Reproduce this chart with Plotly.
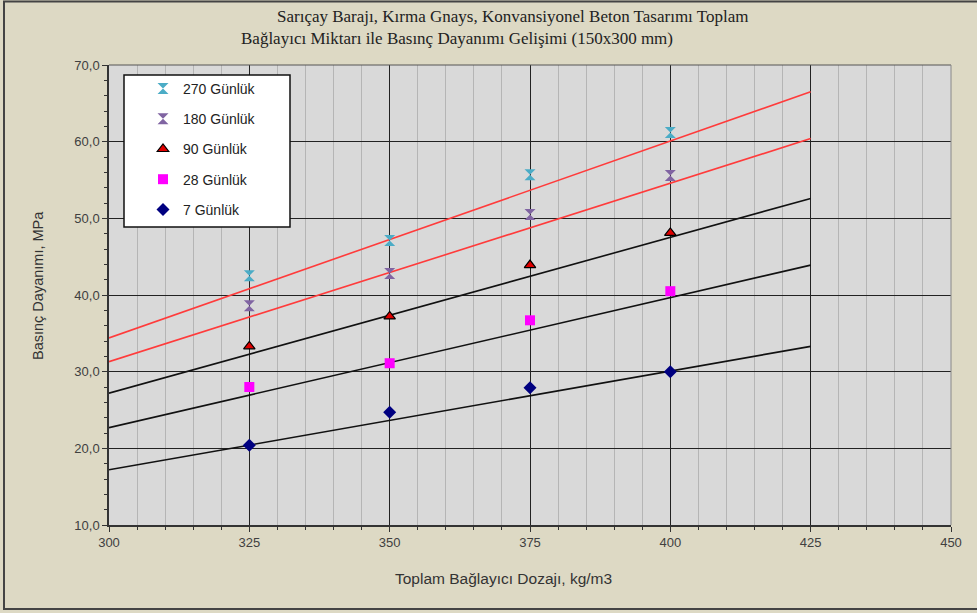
import plotly.graph_objects as go

dosage = [325, 350, 375, 400]
s270 = [42.5, 47.1, 55.7, 61.2]
s180 = [38.6, 42.8, 50.5, 55.6]
s90 = [33.3, 37.2, 43.9, 48.1]
s28 = [28.0, 31.1, 36.7, 40.5]
s7 = [20.4, 24.7, 27.9, 30.0]

trend_x = [300, 425]
t270 = [34.4, 66.5]
t180 = [31.3, 60.4]
t90 = [27.2, 52.6]
t28 = [22.7, 43.9]
t7 = [17.2, 33.3]

yticks = [10, 20, 30, 40, 50, 60, 70]
ytick_labels = ["10,0", "20,0", "30,0", "40,0", "50,0", "60,0", "70,0"]
xticks = [300, 325, 350, 375, 400, 425, 450]

names = ["270 Günlük", "180 Günlük", "90 Günlük", "28 Günlük", "7 Günlük"]

fig = go.Figure()

# trend lines
for t, col in [(t270, "#FF3B3B"), (t180, "#FF3B3B"), (t90, "#111111"), (t28, "#111111"), (t7, "#111111")]:
    fig.add_trace(go.Scatter(x=trend_x, y=t, mode="lines", line=dict(color=col, width=1.6),
                             showlegend=False, hoverinfo="skip"))

series = [
    (s270, names[0], dict(symbol="hourglass", size=11, color="#4BACC6", line=dict(width=0))),
    (s180, names[1], dict(symbol="hourglass", size=11, color="#8064A2", line=dict(width=0))),
    (s90, names[2], dict(symbol="triangle-up", size=10, color="#E00000", line=dict(width=1.2, color="#000000"))),
    (s28, names[3], dict(symbol="square", size=10, color="#FF00FF", line=dict(width=0))),
    (s7, names[4], dict(symbol="diamond", size=10, color="#000080", line=dict(width=0))),
]
for i, (vals, nm, mk) in enumerate(series):
    fig.add_trace(go.Scatter(x=dosage, y=vals, mode="markers", name=nm, marker=mk,
                             legendgroup=str(i)))

L, R, T, B = 109, 951, 65, 525
W, H = 977, 613
pw, ph = R - L, B - T

def px(xp):
    return (xp - L) / pw

def py(yp):
    return 1 - (yp - T) / ph

fig.update_layout(
    width=W, height=H,
    margin=dict(l=L, r=W - R, t=T, b=H - B, autoexpand=False),
    paper_bgcolor="#DDD9C4",
    plot_bgcolor="#D9D9D9",
    font=dict(family="Liberation Sans, Arial", size=12, color="#333333"),
    showlegend=True,
    legend=dict(x=px(143), y=py(73), xanchor="left", yanchor="top",
                bgcolor="rgba(0,0,0,0)", borderwidth=0,
                traceorder="grouped", tracegroupgap=9,
                font=dict(family="Liberation Sans, Arial", size=14, color="#222222")),
)

fig.update_xaxes(
    range=[300, 450], tickvals=xticks, ticks="outside", ticklen=5, tickcolor="#333333",
    showline=True, linecolor="#333333", linewidth=1.5, mirror=False, automargin=False,
    showgrid=True, gridcolor="#222222", gridwidth=1.4, zeroline=False,
    minor=dict(dtick=5, ticks="outside", ticklen=3, tickcolor="#333333",
               showgrid=True, gridcolor="#B5B5B5", gridwidth=1),
    tickfont=dict(size=13, color="#404040"),
)
fig.update_yaxes(
    range=[10, 70], tickvals=yticks, ticktext=ytick_labels, ticks="outside", ticklen=5,
    tickcolor="#333333", automargin=False,
    showline=True, linecolor="#333333", linewidth=1.5,
    showgrid=True, gridcolor="#222222", gridwidth=1.4, zeroline=False,
    minor=dict(dtick=2, ticks="outside", ticklen=3, tickcolor="#333333", showgrid=False),
    tickfont=dict(size=13, color="#404040"),
)

# plot area right/top border
fig.add_shape(type="line", xref="paper", yref="paper", x0=0, x1=1, y0=1, y1=1,
              line=dict(color="#555555", width=1))
fig.add_shape(type="line", xref="paper", yref="paper", x0=1, x1=1, y0=0, y1=1,
              line=dict(color="#888888", width=1))
# legend box
fig.add_shape(type="rect", xref="paper", yref="paper", x0=px(124), x1=px(290), y0=py(227), y1=py(75),
              fillcolor="#FFFFFF", line=dict(color="#111111", width=1.5), layer="above")
# outer frame
fig.add_shape(type="rect", xref="paper", yref="paper", x0=px(4), x1=px(990), y0=py(609), y1=py(1.5),
              line=dict(color="#444444", width=2), fillcolor="rgba(0,0,0,0)")

fig.add_annotation(text="Sarıçay Barajı, Kırma Gnays, Konvansiyonel Beton Tasarımı Toplam",
                   xref="paper", yref="paper", x=px(512), y=py(17), showarrow=False,
                   xanchor="center", yanchor="middle",
                   font=dict(family="Liberation Serif, Times New Roman", size=17, color="#222222"))
fig.add_annotation(text="Bağlayıcı Miktarı ile Basınç Dayanımı Gelişimi (150x300 mm)",
                   xref="paper", yref="paper", x=px(457), y=py(38), showarrow=False,
                   xanchor="center", yanchor="middle",
                   font=dict(family="Liberation Serif, Times New Roman", size=17, color="#222222"))
# axis titles
fig.add_annotation(text="Toplam Bağlayıcı Dozajı, kg/m3", xref="paper", yref="paper",
                   x=px(503), y=py(578), showarrow=False, xanchor="center", yanchor="middle",
                   font=dict(size=15.5, color="#333333"))
fig.add_annotation(text="Basınç Dayanımı, MPa", xref="paper", yref="paper", textangle=-90,
                   x=px(38), y=py(286), showarrow=False, xanchor="center", yanchor="middle",
                   font=dict(size=14.5, color="#333333"))

fig.write_html("out.html", config={"displayModeBar": False},
               post_script="document.body.style.margin='0';document.body.style.overflow='hidden';")
